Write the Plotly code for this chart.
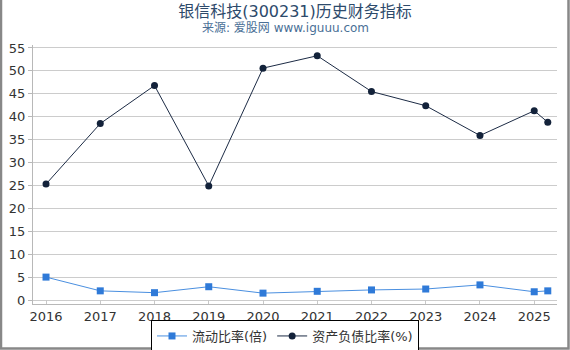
import plotly.graph_objects as go

years = [2016, 2017, 2018, 2019, 2020, 2021, 2022, 2023, 2024, 2025, 2025.25]
current_ratio = [5.0, 2.0, 1.6, 2.9, 1.5, 1.9, 2.2, 2.4, 3.3, 1.8, 2.0]
debt_ratio = [25.3, 38.5, 46.8, 24.9, 50.6, 53.3, 45.5, 42.4, 35.9, 41.3, 38.8]
tick_years = [2016, 2017, 2018, 2019, 2020, 2021, 2022, 2023, 2024, 2025]

W, H = 570, 350
ml, mr, mt, mb = 33, 13, 45, 46
pw, ph = W - ml - mr, H - mt - mb

fig = go.Figure()
fig.add_trace(go.Scatter(
    x=years, y=current_ratio, name="流动比率(倍)", mode="lines+markers",
    line=dict(color="#4a8fe0", width=1),
    marker=dict(symbol="square", size=7, color="#2f7ad8"),
))
fig.add_trace(go.Scatter(
    x=years, y=debt_ratio, name="资产负债比率(%)", mode="lines+markers",
    line=dict(color="#1c2b45", width=1),
    marker=dict(symbol="circle", size=7, color="#13223a"),
))

fig.update_layout(
    width=W, height=H,
    margin=dict(l=ml, r=mr, t=mt, b=mb, autoexpand=False),
    paper_bgcolor="white", plot_bgcolor="white",
    font=dict(family="DejaVu Sans, Noto Sans CJK SC", size=13, color="#333"),
    title=dict(
        text="银信科技(300231)历史财务指标",
        x=0.5, xref="paper", xanchor="center", yref="container", y=1 - 11 / H, yanchor="middle",
        font=dict(size=16, color="#2d4a6b"),
    ),
    xaxis=dict(
        range=[2015.76, 2025.42], tickvals=tick_years, ticktext=[str(t) for t in tick_years],
        showgrid=False, showline=True, linecolor="#b8b8b8", linewidth=1,
        ticks="inside", ticklen=4, tickcolor="#c8c8c8", zeroline=False,
        tickfont=dict(size=13, color="#333"), automargin=False,
    ),
    yaxis=dict(
        range=[-0.87, 55.65], tickvals=list(range(0, 60, 5)),
        showgrid=True, gridcolor="#cccccc", gridwidth=1,
        showline=True, linecolor="#b8b8b8", linewidth=1,
        ticks="outside", ticklen=4, tickcolor="#b8b8b8", zeroline=False,
        tickfont=dict(size=13, color="#333"), automargin=False,
    ),
    legend=dict(
        orientation="h", x=(285 - ml) / pw, xanchor="center", y=-(320 - mt - ph) / ph, yanchor="top",
        bordercolor="#000", borderwidth=1, font=dict(size=13, color="#333"),
        tracegroupgap=0, itemwidth=30,
    ),
    showlegend=True,
)

fig.add_annotation(
    text="来源: 爱股网 www.iguuu.com", xref="paper", yref="paper",
    x=(285 - ml) / pw, y=1 + (mt - 28) / ph, xanchor="center", yanchor="middle",
    showarrow=False, font=dict(size=12, color="#4a6f96"),
)

# outer gray border
fig.add_shape(
    type="rect", xref="paper", yref="paper",
    x0=(1 - ml) / pw, x1=1 + (mr - 1.5) / pw,
    y0=-(mb - 1.5) / ph, y1=1 + (mt + 5) / ph,
    line=dict(color="#888888", width=2.5), fillcolor="rgba(0,0,0,0)", layer="above",
)

fig.write_html("out.html")
